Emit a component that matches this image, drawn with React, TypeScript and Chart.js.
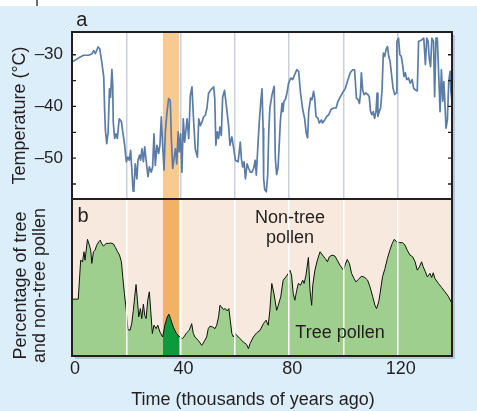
import React, { useEffect, useRef } from 'react';
import { Chart, registerables } from 'chart.js';

// ---------- data ----------
const tempAges = [
  0, 2.5, 4.3, 6.1, 7.4, 8.0, 8.6, 9.6, 10.2, 10.8, 11.7, 12.0, 12.3, 12.8, 13.3, 13.8, 14.2, 14.7, 15.0, 15.2,
  15.7, 16.2, 16.7, 17.4, 18.2, 18.7, 19.4, 20.0, 20.6, 21.1, 21.6, 22.1, 22.5, 22.8, 23.3, 23.9, 24.3, 24.9, 25.3, 25.8,
  26.3, 26.8, 27.3, 28.0, 28.5, 29.2, 29.7, 30.2, 30.7, 31.3, 31.9, 32.4, 32.9, 33.4, 33.9, 34.4, 35.0, 35.6, 36.2, 36.6,
  37.1, 37.6, 38.1, 38.6, 39.1, 39.5, 40.0, 40.5, 41.0, 41.5, 42.4, 43.0, 43.6, 44.2, 44.7, 45.4, 46.2, 46.7, 47.3, 47.9,
  48.5, 49.1, 49.7, 50.3, 51.0, 52.2, 52.6, 53.0, 53.5, 54.0, 54.5, 55.0, 55.5, 56.2, 56.7, 57.2, 57.7, 58.2, 58.9, 59.6,
  60.2, 61.2, 62.0, 62.4, 62.9, 63.4, 63.9, 64.5, 65.1, 65.7, 66.3, 66.9, 67.5, 67.9, 68.4, 69.0, 69.6, 70.0, 70.4, 70.6,
  71.0, 71.6, 72.1, 72.5, 72.9, 73.7, 74.5, 74.9, 75.4, 75.9, 76.4, 76.8, 77.4, 77.7, 78.1, 78.6, 79.2, 79.8, 80.6, 81.3,
  82.0, 82.8, 83.5, 84.2, 85.0, 85.7, 86.3, 86.8, 87.2, 87.9, 88.4, 89.0, 89.4, 89.9, 90.6, 91.1, 91.9, 92.3, 93.1, 93.9,
  94.6, 95.4, 96.4, 97.3, 98.0, 98.9, 100.1, 100.7, 101.7, 102.5, 103.4, 104.1, 104.8, 105.4, 105.9, 106.3, 106.6, 107.1, 107.6, 108.3,
  109.0, 109.5, 110.0, 110.5, 111.0, 111.5, 112.0, 112.4, 112.7, 113.2, 113.7, 114.2, 114.7, 115.2, 115.7, 116.2, 116.7, 117.2, 117.6, 118.3,
  118.9, 119.4, 119.7, 120.3, 120.8, 121.3, 121.8, 122.3, 122.8, 123.3, 124.0, 124.6, 125.3, 125.9, 126.5, 127.2, 127.7, 128.3, 128.9, 129.6,
  130.2, 130.7, 131.2, 131.6, 132.1, 132.6, 133.2, 133.6, 134.1, 134.6, 135.1, 135.6, 136.1, 136.6, 137.0, 137.4, 137.8, 138.3, 138.8, 139.3,
  139.6, 140.0,
];
const tempValues = [
  -31.4, -30.6, -30.1, -30.1, -29.8, -29.2, -29.8, -28.5, -28.8, -30.8, -34.3, -40.4, -44.6, -47.2, -45.0, -36.6, -38.2, -32.8, -35.9, -43.0,
  -46.2, -45.3, -46.2, -42.4, -42.9, -44.9, -47.5, -50.7, -49.8, -50.4, -48.5, -52.7, -56.4, -55.9, -51.1, -54.0, -50.4, -49.4, -50.4, -48.2,
  -50.7, -47.8, -50.4, -53.6, -51.7, -52.7, -51.7, -45.3, -51.4, -47.5, -49.1, -47.5, -42.0, -47.5, -52.3, -44.9, -41.1, -38.5, -38.8, -46.2,
  -52.0, -50.1, -48.2, -51.1, -44.9, -48.8, -45.3, -52.7, -42.4, -46.9, -42.4, -46.2, -37.9, -36.2, -41.7, -48.2, -49.8, -42.4, -43.7, -43.0,
  -42.0, -41.7, -40.4, -37.5, -36.9, -36.2, -38.5, -47.5, -44.9, -46.2, -44.0, -45.6, -38.2, -36.9, -39.1, -41.4, -43.7, -47.5, -45.9, -48.2,
  -50.4, -50.7, -46.9, -50.1, -51.7, -50.7, -54.0, -51.1, -52.0, -52.7, -52.7, -52.0, -50.4, -53.3, -48.5, -43.0, -38.8, -36.6, -44.2, -53.9,
  -56.1, -56.5, -53.2, -44.8, -40.3, -37.7, -36.1, -50.0, -53.2, -51.9, -46.8, -42.6, -39.4, -41.0, -39.0, -38.7, -37.4, -35.5, -34.5, -34.8,
  -33.9, -32.9, -33.2, -37.4, -40.6, -42.3, -45.2, -46.1, -41.0, -38.4, -38.7, -37.1, -38.4, -41.9, -42.3, -43.2, -42.6, -43.2, -42.6, -41.9,
  -41.6, -40.6, -40.3, -40.3, -39.0, -38.1, -37.0, -36.5, -34.8, -33.5, -32.9, -32.9, -38.4, -38.7, -39.4, -37.4, -33.5, -36.8, -37.7, -37.4,
  -37.7, -38.1, -41.0, -41.6, -41.0, -42.3, -41.0, -37.4, -41.9, -41.0, -40.3, -37.1, -29.7, -30.3, -29.0, -28.4, -30.3, -31.3, -33.2, -36.5,
  -37.7, -37.4, -27.4, -26.8, -30.0, -30.3, -31.9, -34.2, -33.5, -34.8, -34.5, -35.5, -34.8, -36.5, -36.8, -37.0, -27.4, -27.3, -27.1, -26.8,
  -31.9, -26.8, -27.4, -30.6, -32.3, -26.8, -27.4, -38.1, -26.8, -26.8, -33.9, -41.0, -32.9, -39.0, -35.2, -39.4, -44.2, -42.6, -35.2, -33.2,
  -37.1, -39.0,
];

const pollenAges = [
  0, 2.3, 3.2, 3.9, 4.4, 4.8, 5.7, 6.4, 6.9, 7.3, 7.9, 8.5, 9.1, 9.9, 10.4, 10.8, 11.6, 12.6, 13.5, 14.3,
  15.3, 16.0, 16.8, 17.5, 18.2, 18.7, 19.3, 20.0, 20.6, 21.4, 22.0, 22.6, 23.1, 23.6, 24.1, 24.6, 25.2, 25.7, 26.3, 26.8,
  27.3, 27.9, 28.5, 29.0, 29.6, 30.2, 31.0, 31.6, 32.4, 33.4, 34.2, 35.1, 35.7, 36.3, 37.3, 38.5, 39.7, 40.7, 41.2, 42.2,
  43.2, 44.1, 44.7, 45.3, 46.5, 47.8, 48.6, 49.6, 50.2, 50.8, 51.8, 52.7, 53.3, 54.0, 54.5, 55.1, 55.8, 56.5, 57.2, 57.8,
  58.3, 58.9, 59.5, 60.1, 60.7, 61.9, 63.1, 64.3, 65.0, 65.6, 66.8, 68.0, 69.3, 70.5, 71.5, 72.3, 72.9, 73.6, 74.4, 75.4,
  76.0, 76.9, 77.8, 78.8, 79.7, 80.3, 80.9, 81.5, 82.1, 82.8, 83.4, 84.2, 85.0, 85.5, 86.2, 87.1, 87.7, 88.3, 88.7, 89.5,
  90.4, 91.4, 92.3, 93.3, 94.1, 94.8, 95.8, 96.9, 97.7, 98.7, 100.0, 100.6, 101.4, 102.2, 103.0, 103.9, 104.6, 105.5, 106.7, 107.9,
  108.9, 109.8, 110.8, 111.6, 112.2, 113.0, 113.5, 114.4, 115.3, 116.2, 117.1, 118.0, 118.7, 119.6, 120.6, 121.8, 122.7, 123.5, 124.5, 125.5,
  126.4, 127.2, 128.0, 128.8, 129.4, 130.2, 130.9, 131.9, 132.5, 133.1, 133.7, 135.0, 136.2, 137.4, 138.6, 140.0,
];
const treePollen = [
  36.2, 36.2, 61, 60, 66.4, 61, 74.3, 70.6, 67.4, 59, 66.4, 67.4, 70.6, 72.8, 73.8, 72, 70, 71.7, 71.7, 72,
  71.3, 69.1, 66.4, 64.3, 60, 50.4, 39.8, 29.1, 16.8, 16.4, 20.6, 29.1, 37.7, 45.5, 35.5, 24.9, 30.2, 23.8, 33, 26,
  23.8, 35.5, 40.9, 29.1, 14.3, 19.6, 17.4, 19.6, 15.3, 12.1, 19.6, 24.9, 26.6, 23.8, 18.5, 14.3, 12.1, 11.1, 12.1, 14.7,
  16.4, 20.6, 14.3, 12.1, 10, 6.8, 8.9, 12.1, 17.4, 18.9, 18.5, 17.4, 19.6, 24.9, 32.3, 31.3, 29.6, 30.2, 28.7, 30.2,
  22.8, 14.3, 12.1, 14.3, 13.2, 11.1, 8.9, 7.4, 4.7, 7.9, 12.1, 14.7, 16.4, 20.6, 22.8, 19.6, 29.1, 46.2, 39.8, 29.1,
  32.3, 37.7, 48.3, 50.4, 52.6, 54.7, 51.5, 39.8, 35.5, 41.9, 46.2, 45.1, 48.3, 46.2, 51.5, 62.8, 41.9, 32.3, 45.1, 54.7,
  61.1, 66.4, 64.3, 62.1, 60, 63.2, 64.3, 63.6, 61.1, 57.9, 54.7, 57.9, 61.5, 58.9, 52.6, 49.4, 47.2, 48.7, 50.9, 50,
  48.3, 44, 37.7, 32.3, 30.2, 34.5, 39.8, 50.4, 55.7, 62.1, 67.4, 71.7, 74.3, 72.8, 72.3, 72.1, 70.6, 67.4, 64.3, 63.2,
  60, 54.7, 56.8, 60, 56.8, 53.6, 50.4, 52.6, 50, 53, 49.4, 46.2, 43.6, 40.9, 38.1, 33.4,
];

const bandYears = [33.5, 39.4];
const xLabelValues = [0, 40, 80, 120];
const tempTickValues = [-55, -50, -45, -40, -35, -30];
const tempLabelValues = [-50, -40, -30];

// ---------- styling ----------
const FONT = "'Liberation Sans', Arial, Helvetica, sans-serif";
const INK = '#231f20';

const bandClipPlugin = {
  id: 'bandClip',
  beforeDatasetDraw(chart: any, args: any) {
    const ds = chart.data.datasets[args.index];
    if (!ds || !ds.bandClip) return;
    const x = chart.scales.x;
    const a = chart.chartArea;
    const l = x.getPixelForValue(ds.bandClip[0]);
    const r = x.getPixelForValue(ds.bandClip[1]);
    chart.ctx.save();
    chart.ctx.beginPath();
    chart.ctx.rect(l, a.top, r - l, a.bottom - a.top);
    chart.ctx.clip();
  },
  afterDatasetDraw(chart: any, args: any) {
    const ds = chart.data.datasets[args.index];
    if (!ds || !ds.bandClip) return;
    chart.ctx.restore();
  },
};
Chart.register(bandClipPlugin as any);
Chart.register(...registerables);

function drawText(ctx: CanvasRenderingContext2D, str: string, x: number, y: number, size: number, rot = 0) {
  ctx.save();
  ctx.font = `${size}px ${FONT}`;
  ctx.fillStyle = INK;
  ctx.textAlign = 'center';
  ctx.textBaseline = 'alphabetic';
  ctx.translate(x, y);
  if (rot) ctx.rotate(rot);
  ctx.fillText(str, 0, 0);
  ctx.restore();
}

function fillPanel(chart: any, bg: string, band: string) {
  const { ctx, chartArea: a, scales } = chart;
  const x = scales.x;
  ctx.save();
  ctx.fillStyle = bg;
  ctx.fillRect(a.left, a.top, a.width, a.height);
  const l = x.getPixelForValue(bandYears[0]);
  const r = x.getPixelForValue(bandYears[1]);
  ctx.fillStyle = band;
  ctx.fillRect(l, a.top, r - l, a.height);
  ctx.restore();
}

function frame(chart: any) {
  const { ctx, chartArea: a } = chart;
  ctx.save();
  ctx.strokeStyle = INK;
  ctx.lineWidth = 2;
  ctx.strokeRect(a.left, a.top, a.width, a.height);
  ctx.restore();
}

const panelAPlugin = {
  id: 'panelA',
  beforeDraw(chart: any) {
    fillPanel(chart, '#ffffff', '#f9ca8f');
  },
  afterDraw(chart: any) {
    const { ctx, chartArea: a, scales } = chart;
    const y = scales.y;
    ctx.save();
    ctx.strokeStyle = INK;
    ctx.lineWidth = 1.3;
    ctx.beginPath();
    for (const v of tempTickValues) {
      const py = y.getPixelForValue(v);
      ctx.moveTo(a.left, py);
      ctx.lineTo(a.left + 4, py);
      ctx.moveTo(a.right - 4, py);
      ctx.lineTo(a.right, py);
    }
    ctx.stroke();
    ctx.restore();
    frame(chart);
    drawText(ctx, 'a', 81.7, 26, 20);
  },
};

const panelBPlugin = {
  id: 'panelB',
  beforeDraw(chart: any) {
    fillPanel(chart, '#f7e9dd', '#f3b263');
  },
  afterDraw(chart: any) {
    const { ctx } = chart;
    frame(chart);
    drawText(ctx, 'b', 83, 222, 20);
    drawText(ctx, 'Non-tree', 290, 223, 18);
    drawText(ctx, 'pollen', 290, 243, 18);
    drawText(ctx, 'Tree pollen', 340, 338, 18);
    drawText(ctx, 'Time (thousands of years ago)', 253, 405, 18);
    drawText(ctx, 'Percentage of tree', 25.5, 285.5, 18, -Math.PI / 2);
    drawText(ctx, 'and non-tree pollen', 44.6, 285.5, 18, -Math.PI / 2);
  },
};

export default function App() {
  const refA = useRef<HTMLCanvasElement>(null);
  const refB = useRef<HTMLCanvasElement>(null);

  useEffect(() => {
    const tempPts = tempAges.map((x, i) => ({ x, y: tempValues[i] }));
    const pollenPts = pollenAges.map((x, i) => ({ x, y: treePollen[i] }));

    const chartA = new Chart(refA.current!, {
      type: 'line',
      data: {
        datasets: [
          {
            data: tempPts,
            borderColor: '#5a7ca6',
            borderWidth: 1.7,
            pointRadius: 0,
            fill: false,
            tension: 0,
            borderJoinStyle: 'round',
          } as any,
        ],
      },
      options: {
        responsive: false,
        animation: false,
        events: [],
        layout: { padding: { left: 0, right: 25, top: 32, bottom: 212 } },
        plugins: { legend: { display: false }, tooltip: { enabled: false } },
        scales: {
          x: {
            type: 'linear',
            min: 0,
            max: 140,
            ticks: { display: false, stepSize: 20 },
            grid: { color: '#c9d0dc', lineWidth: 1.5, drawTicks: false },
            border: { display: false },
            afterFit: (s: any) => { s.height = 0; },
          },
          y: {
            type: 'linear',
            min: -57.9,
            max: -25.6,
            afterBuildTicks: (s: any) => { s.ticks = tempTickValues.map((v) => ({ value: v })); },
            ticks: {
              callback: (v: any) => (tempLabelValues.includes(Number(v)) ? '\u2013' + Math.abs(Number(v)) : ''),
              font: { family: FONT, size: 17 },
              color: INK,
              padding: 9,
              autoSkip: false,
            },
            grid: { display: false, drawTicks: false },
            border: { display: false },
            title: {
              display: true,
              text: 'Temperature (°C)',
              font: { family: FONT, size: 18 },
              color: INK,
              padding: { top: 9.5, bottom: 0 },
            },
            afterFit: (s: any) => { s.width = 72; },
          },
        },
      } as any,
      plugins: [panelAPlugin as any],
    });

    const chartB = new Chart(refB.current!, {
      type: 'line',
      data: {
        datasets: [
          { data: pollenPts, borderColor: '#111111', borderWidth: 1, pointRadius: 0, fill: false, tension: 0 },
          {
            data: pollenPts,
            borderColor: 'rgba(0,0,0,0)',
            borderWidth: 0,
            pointRadius: 0,
            fill: 'origin',
            backgroundColor: '#0c9a3d',
            tension: 0,
            bandClip: bandYears,
          },
          {
            data: pollenPts,
            borderColor: 'rgba(0,0,0,0)',
            borderWidth: 0,
            pointRadius: 0,
            fill: 'origin',
            backgroundColor: '#9fcf8e',
            tension: 0,
          },
        ] as any,
      },
      options: {
        responsive: false,
        animation: false,
        events: [],
        layout: { padding: { left: 72, right: 25, top: 199, bottom: 0 } },
        plugins: { legend: { display: false }, tooltip: { enabled: false } },
        scales: {
          x: {
            type: 'linear',
            min: 0,
            max: 140,
            ticks: {
              stepSize: 20,
              autoSkip: false,
              maxRotation: 0,
              callback: (v: any) => (xLabelValues.includes(Number(v)) ? String(v) : ''),
              font: { family: FONT, size: 18 },
              color: INK,
              padding: 2,
              labelOffset: 3,
            },
            grid: { color: '#ffffff', lineWidth: 1.5, drawTicks: false, z: 1 },
            border: { display: false },
            afterFit: (s: any) => { s.height = 55; },
          },
          y: {
            type: 'linear',
            min: 0,
            max: 100,
            display: false,
          },
        },
      } as any,
      plugins: [panelBPlugin as any],
    });

    return () => {
      chartA.destroy();
      chartB.destroy();
    };
  }, []);

  return (
    <div style={{ position: 'absolute', left: 0, top: 0, width: 477, height: 411, background: '#ffffff', overflow: 'hidden' }}>
      <div style={{ position: 'absolute', left: 36, top: 0, width: 2, height: 6, background: '#6e6e6e' }} />
      <div style={{ position: 'absolute', left: 0, top: 6, width: 477, height: 405, background: '#dceefa' }} />
      <div style={{ position: 'absolute', left: 75, top: 35, width: 380, height: 324, background: '#b7c7d6' }} />
      <canvas ref={refB} width={477} height={411} style={{ position: 'absolute', left: 0, top: 0 }} />
      <canvas ref={refA} width={477} height={411} style={{ position: 'absolute', left: 0, top: 0 }} />
    </div>
  );
}
